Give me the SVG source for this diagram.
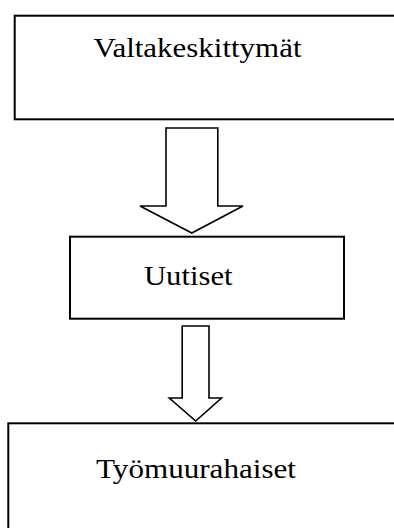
<svg xmlns="http://www.w3.org/2000/svg" width="394" height="528" viewBox="0 0 394 528">
<style>
.box{fill:#fff;stroke:#000;stroke-width:2}
.arrow{fill:#fff;stroke:#000;stroke-width:1.6;stroke-linejoin:miter}
.lbl{font-family:"Liberation Serif","Times New Roman",serif;font-size:27px;fill:#000}
</style>
<rect width="394" height="528" fill="#fff"/>
<g id="node-valtakeskittymat">
<rect class="box" x="14.7" y="15.7" width="400" height="103.6"/>
<text class="lbl" x="93.5" y="56.5" textLength="208" lengthAdjust="spacingAndGlyphs">Valtakeskittymät</text>
</g>
<g id="node-uutiset">
<rect class="box" x="70" y="236.7" width="274" height="82"/>
<text class="lbl" x="144" y="285" textLength="88.5" lengthAdjust="spacingAndGlyphs">Uutiset</text>
</g>
<g id="node-tyomuurahaiset">
<rect class="box" x="8.3" y="423.3" width="400" height="120"/>
<text class="lbl" x="96" y="477.5" textLength="200" lengthAdjust="spacingAndGlyphs">Työmuurahaiset</text>
</g>
<g id="connectors">
<polygon class="arrow" points="166,128 217.8,128 217.8,206 243,206 191.8,233 140,206 166,206"/>
<polygon class="arrow" points="182.2,326 209,326 209,398 221.5,398 195.7,421 169.3,398 182.2,398"/>
</g>
</svg>
